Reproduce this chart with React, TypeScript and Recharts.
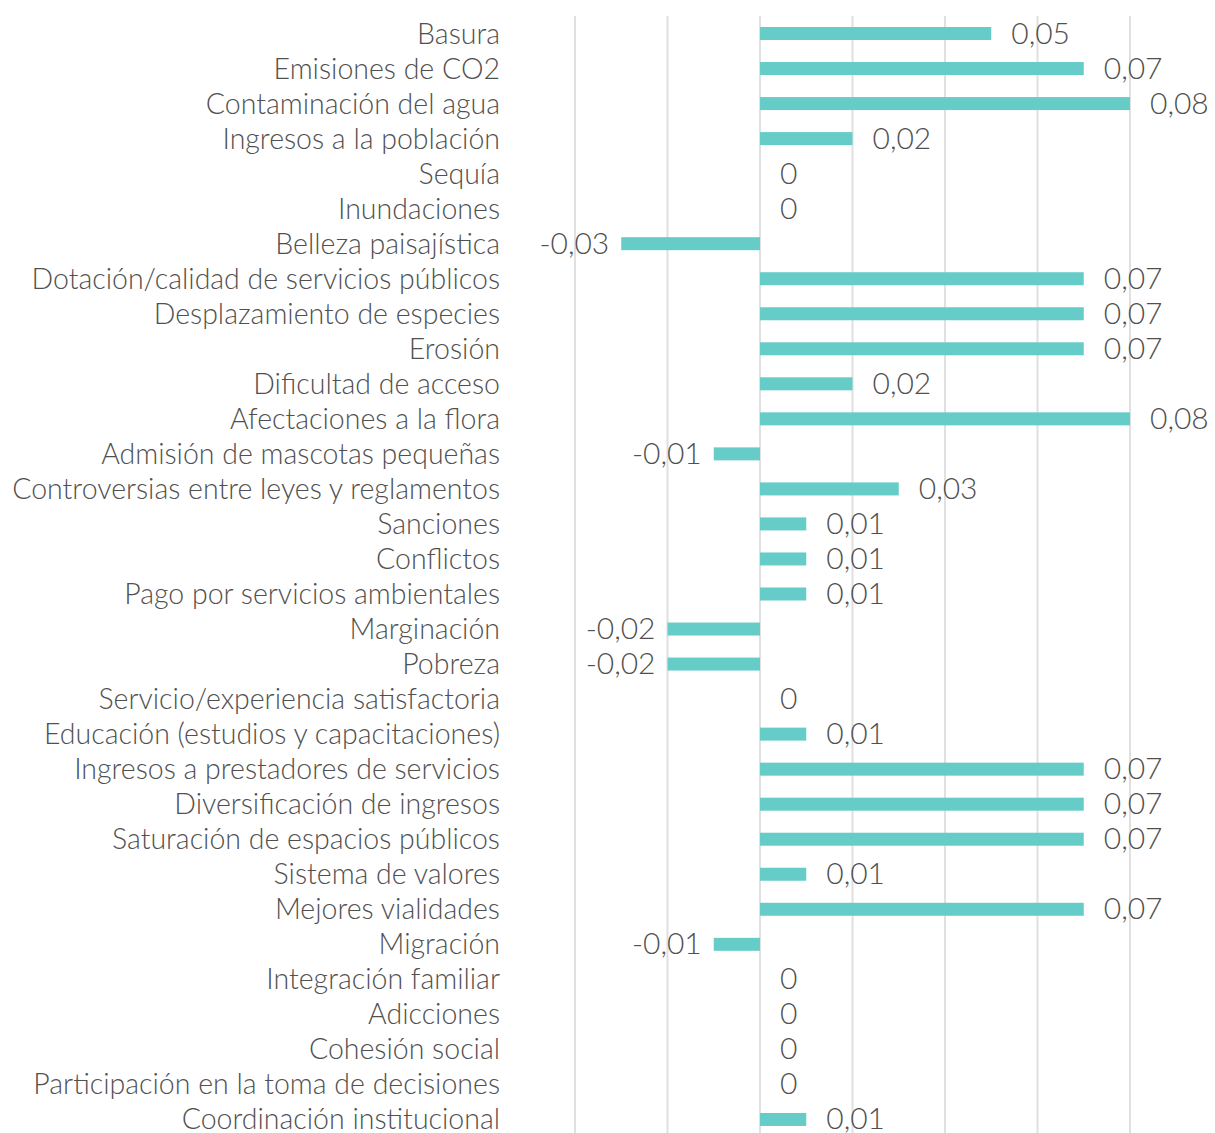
import { Bar, BarChart, CartesianGrid, XAxis, YAxis } from "recharts"

const categories = [
  "Basura",
  "Emisiones de CO2",
  "Contaminación del agua",
  "Ingresos a la población",
  "Sequía",
  "Inundaciones",
  "Belleza paisajística",
  "Dotación/calidad de servicios públicos",
  "Desplazamiento de especies",
  "Erosión",
  "Dificultad de acceso",
  "Afectaciones a la flora",
  "Admisión de mascotas pequeñas",
  "Controversias entre leyes y reglamentos",
  "Sanciones",
  "Conflictos",
  "Pago por servicios ambientales",
  "Marginación",
  "Pobreza",
  "Servicio/experiencia satisfactoria",
  "Educación (estudios y capacitaciones)",
  "Ingresos a prestadores de servicios",
  "Diversificación de ingresos",
  "Saturación de espacios públicos",
  "Sistema de valores",
  "Mejores vialidades",
  "Migración",
  "Integración familiar",
  "Adicciones",
  "Cohesión social",
  "Participación en la toma de decisiones",
  "Coordinación institucional",
]

const values = [
  0.05, 0.07, 0.08, 0.02, 0, 0, -0.03, 0.07, 0.07, 0.07, 0.02, 0.08, -0.01, 0.03, 0.01, 0.01,
  0.01, -0.02, -0.02, 0, 0.01, 0.07, 0.07, 0.07, 0.01, 0.07, -0.01, 0, 0, 0, 0, 0.01,
]

const xTicks = [-0.04, -0.02, 0, 0.02, 0.04, 0.06, 0.08]

const data = categories.map((name, i) => ({ name, value: values[i] }))

const font = "Lato, 'Open Sans', sans-serif"
const textColor = "#505050"
const barColor = "#66ccc8"

const fmt = (v: number) => (v === 0 ? "0" : v.toFixed(2).replace(".", ","))

function CategoryTick({ x, y, payload }: any) {
  return (
    <text x={x} y={y} dy={10} textAnchor="end" fontFamily={font} fontSize={28.5} fontWeight={300} fill={textColor}>
      {payload.value}
    </text>
  )
}

// bar + its value label, so zero-width bars still get their "0"
function BarWithLabel({ x, y, width, height, value }: any) {
  const v = Array.isArray(value) ? value[1] - value[0] : value
  const left = Math.min(x, x + width)
  const w = Math.abs(width)
  const end = x + width
  const neg = v < 0
  return (
    <g>
      {w > 0 && <rect x={left} y={y} width={w} height={height} fill={barColor} />}
      <text
        x={neg ? end - 12 : end + 20}
        y={y + height / 2}
        dy={10}
        textAnchor={neg ? "end" : "start"}
        fontFamily={font}
        fontSize={30}
        fontWeight={300}
        fill={textColor}
      >
        {fmt(v)}
      </text>
    </g>
  )
}

export default function App() {
  return (
    <div style={{ position: "absolute", left: 0, top: 0, width: 1215, height: 1133, overflow: "hidden", background: "#fff" }}>
      <BarChart
        width={1215}
        height={1150}
        data={data}
        layout="vertical"
        margin={{ top: 16, right: 85, bottom: 13, left: 0 }}
        barSize={13}
      >
        <CartesianGrid horizontal={false} stroke="#e0e0e0" strokeWidth={2} />
        <XAxis type="number" domain={[-0.04, 0.08]} ticks={xTicks} hide />
        <YAxis
          type="category"
          dataKey="name"
          width={575}
          axisLine={false}
          tickLine={false}
          tickSize={0}
          tickMargin={75}
          interval={0}
          tick={<CategoryTick />}
        />
        <Bar dataKey="value" fill={barColor} isAnimationActive={false} shape={<BarWithLabel />} />
      </BarChart>
    </div>
  )
}
